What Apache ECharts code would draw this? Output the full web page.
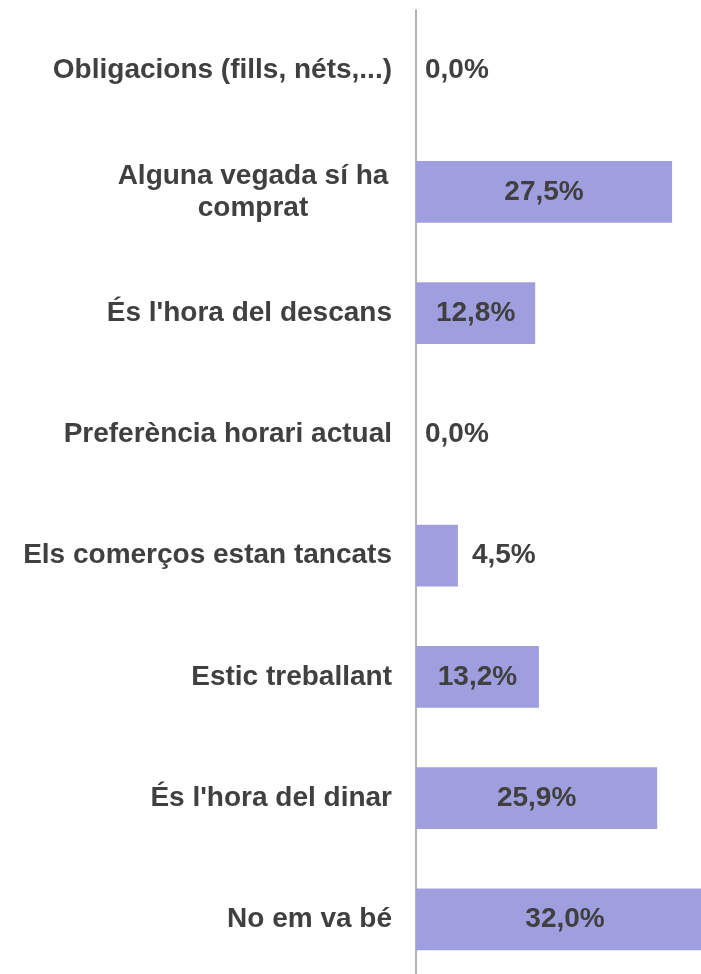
<!DOCTYPE html>
<style>
body {margin: 0;}
#div_echart {height: 974px; width: 701px;}
</style>
<script src='https://cdn.jsdelivr.net/npm/echarts@6/dist/echarts.min.js'></script>
<div id='div_echart'></div>
<script>
let categories = ['Obligacions (fills, néts,...)', 'Alguna vegada sí ha\ncomprat', "És l'hora del descans", 'Preferència horari actual', 'Els comerços estan tancats', 'Estic treballant', "És l'hora del dinar", 'No em va bé']
let values = [0.0, 27.5, 12.8, 0.0, 4.5, 13.2, 25.9, 32.0]
// small bars get their label outside
let outside = [true, false, false, true, true, false, false, false]

let echart = echarts.init(document.getElementById('div_echart'))
let font = 'Liberation Sans, Arial, sans-serif'
let ink = '#404040'

let data = values.map((v, i) => ({
	value: v,
	label: outside[i] ? {position: 'right', distance: v > 0 ? 14 : 9} : {position: 'inside'}
}))

echart.setOption({
	animation: false,
	// plot runs past the right and bottom edges, as in the cropped original
	grid: {left: 416, width: 298, top: 10, height: 970, containLabel: false, outerBoundsMode: 'none'},
	xAxis: {type: 'value', min: 0, max: 32, show: false, splitLine: {show: false}},
	yAxis: {
		type: 'category',
		inverse: true,
		data: categories,
		axisTick: {show: false},
		axisLine: {show: true, lineStyle: {color: '#9a9a9a', width: 1.5}},
		axisLabel: {
			margin: 24,
			fontFamily: font,
			fontSize: 28,
			fontWeight: 'bold',
			color: ink,
			formatter: function (s) {
				if (s.indexOf('\n') < 0) return s
				return s.split('\n').map(t => '{c|' + t + '}').join('\n')
			},
			rich: {
				c: {width: 278, align: 'center', lineHeight: 32, fontFamily: font, fontSize: 28, fontWeight: 'bold', color: ink}
			}
		}
	},
	series: [{
		type: 'bar',
		data: data,
		barCategoryGap: '49%',
		clip: false,
		itemStyle: {color: '#9f9ede'},
		label: {
			show: true,
			fontFamily: font,
			fontSize: 28,
			fontWeight: 'bold',
			color: ink,
			formatter: p => p.value.toFixed(1).replace('.', ',') + '%'
		}
	}]
})
</script>
